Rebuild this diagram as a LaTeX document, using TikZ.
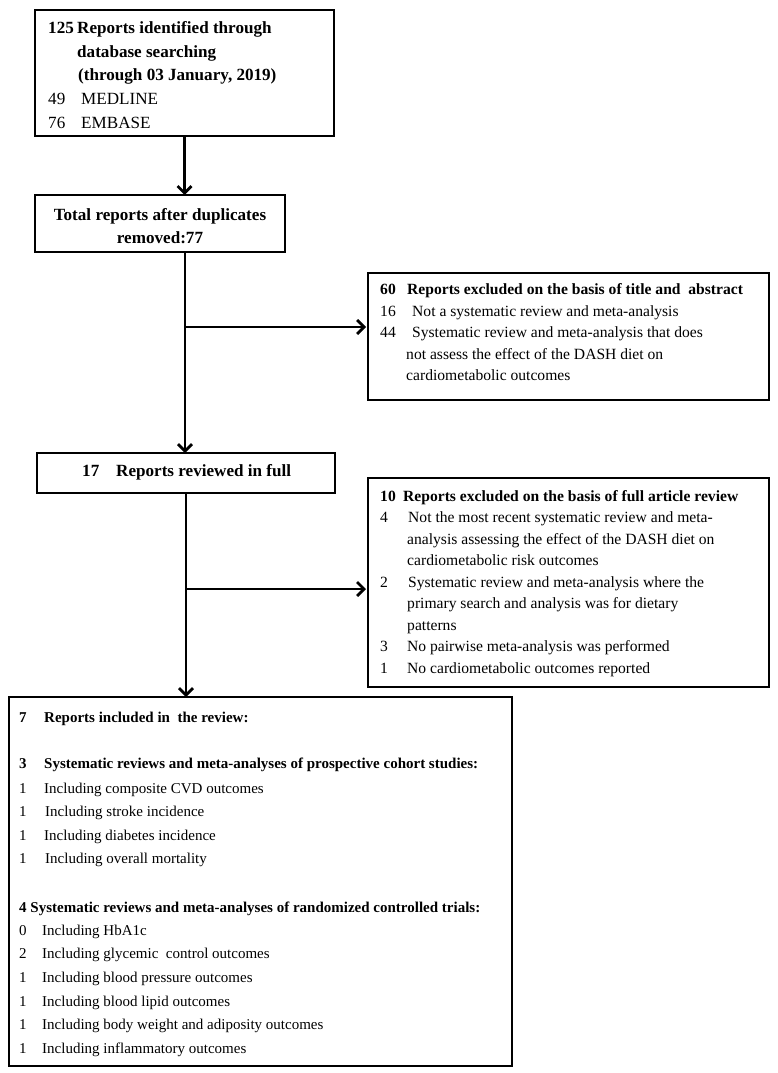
\documentclass[tikz,border=0pt]{standalone}
\usepackage{fontspec}
\setmainfont{Liberation Serif}
\usetikzlibrary{arrows.meta}
\begin{document}
\begin{tikzpicture}[x=1pt,y=-1pt,
  box/.style={draw, line width=1.5pt, inner sep=0pt, outer sep=0pt},
  conn/.style={line width=2.8pt, -{Straight Barb[length=7pt,width=14pt]}},
  tL/.style={anchor=base west, inner sep=0pt, font=\fontsize{17.1}{20}\selectfont},
  tLb/.style={tL, font=\fontsize{17.1}{20}\selectfont\bfseries},
  tLc/.style={anchor=base, inner sep=0pt, font=\fontsize{17.1}{20}\selectfont\bfseries},
  tM/.style={anchor=base west, inner sep=0pt, font=\fontsize{15.6}{18}\selectfont},
  tMb/.style={tM, font=\fontsize{15.6}{18}\selectfont\bfseries},
  tS/.style={anchor=base west, inner sep=0pt, font=\fontsize{15}{18}\selectfont},
  tSb/.style={tS, font=\fontsize{15}{18}\selectfont\bfseries}]
\useasboundingbox (0,0) rectangle (778,1073);

% boxes
\node[box, minimum width=299pt, minimum height=126pt] (b1) at (184.5,73) {};
\node[box, minimum width=250pt, minimum height=57pt] (b2) at (160,223.5) {};
\node[box, minimum width=401pt, minimum height=127pt] (b3) at (568.5,336.5) {};
\node[box, minimum width=298pt, minimum height=40pt] (b4) at (186,473) {};
\node[box, minimum width=401pt, minimum height=209pt] (b5) at (568.5,582.5) {};
\node[box, minimum width=503pt, minimum height=369pt] (b6) at (260.5,881.5) {};

% box 1 text
\node[tLb] (t1a) at (48,34) {125};
\node[tLb] (t1b) at (77,34) {Reports identified through};
\node[tLb] (t1c) at (77,57.5) {database searching};
\node[tLb] (t1d) at (78,81) {(through 03 January, 2019)};
\node[tL] (t1e) at (48,104.5) {49};
\node[tL] (t1f) at (81,104.5) {MEDLINE};
\node[tL] (t1g) at (48,128) {76};
\node[tL] (t1h) at (81,128) {EMBASE};

% box 2 text
\node[tLc] (t2a) at (160,220) {Total reports after duplicates};
\node[tLc] (t2b) at (160,243) {removed:77};

% box 3 text
\node[tMb] (t3a) at (380,294) {60};
\node[tMb] (t3b) at (407,294) {Reports excluded on the basis of title and\ \ abstract};
\node[tM] (t3c) at (380,316) {16};
\node[tM] (t3d) at (412,316) {Not a systematic review and meta-analysis};
\node[tM] (t3e) at (380,337.5) {44};
\node[tM] (t3f) at (412,337.5) {Systematic review and meta-analysis that does};
\node[tM] (t3g) at (406,359) {not assess the effect of the DASH diet on};
\node[tM] (t3h) at (406,380.5) {cardiometabolic outcomes};

% box 4 text
\node[tLb] (t4a) at (82,476.5) {17};
\node[tLb] (t4b) at (116,476.5) {Reports reviewed in full};

% box 5 text
\node[tMb] (t5a) at (380,501) {10};
\node[tMb] (t5b) at (403,501) {Reports excluded on the basis of full article review};
\node[tM] (t5c) at (380,522.5) {4};
\node[tM] (t5d) at (408,522.5) {Not the most recent systematic review and meta-};
\node[tM] (t5e) at (407,544) {analysis assessing the effect of the DASH diet on};
\node[tM] (t5f) at (407,565.5) {cardiometabolic risk outcomes};
\node[tM] (t5g) at (380,587) {2};
\node[tM] (t5h) at (408,587) {Systematic review and meta-analysis where the};
\node[tM] (t5i) at (407,608.5) {primary search and analysis was for dietary};
\node[tM] (t5j) at (407,630) {patterns};
\node[tM] (t5k) at (380,651.5) {3};
\node[tM] (t5l) at (407,651.5) {No pairwise meta-analysis was performed};
\node[tM] (t5m) at (380,673) {1};
\node[tM] (t5n) at (407,673) {No cardiometabolic outcomes reported};

% box 6 text
\node[tSb] (t6a) at (19,722) {7};
\node[tSb] (t6b) at (44,722) {Reports included in\ \ the review:};
\node[tSb] (t6c) at (19,768) {3};
\node[tSb] (t6d) at (44,768) {Systematic reviews and meta-analyses of prospective cohort studies:};
\node[tS] (t6e) at (19,793) {1};
\node[tS] (t6f) at (44,793) {Including composite CVD outcomes};
\node[tS] (t6g) at (19,816.5) {1};
\node[tS] (t6h) at (45,816.5) {Including stroke incidence};
\node[tS] (t6i) at (19,840) {1};
\node[tS] (t6j) at (44,840) {Including diabetes incidence};
\node[tS] (t6k) at (19,863.5) {1};
\node[tS] (t6l) at (45,863.5) {Including overall mortality};
\node[tSb] (t6m) at (19,912) {4 Systematic reviews and meta-analyses of randomized controlled trials:};
\node[tS] (t6n) at (19,935) {0};
\node[tS] (t6o) at (42,935) {Including HbA1c};
\node[tS] (t6p) at (19,958.5) {2};
\node[tS] (t6q) at (42,958.5) {Including glycemic\ \ control outcomes};
\node[tS] (t6r) at (19,982) {1};
\node[tS] (t6s) at (42,982) {Including blood pressure outcomes};
\node[tS] (t6t) at (19,1006) {1};
\node[tS] (t6u) at (42,1006) {Including blood lipid outcomes};
\node[tS] (t6v) at (19,1029.5) {1};
\node[tS] (t6w) at (42,1029.5) {Including body weight and adiposity outcomes};
\node[tS] (t6x) at (19,1053) {1};
\node[tS] (t6y) at (42,1053) {Including inflammatory outcomes};

% connectors
\coordinate (j1) at (185,327);
\coordinate (j2) at (186,589);
\draw[conn] (b1.south) -- (b1.south |- b2.north);
\draw[conn] (j1 |- b2.south) -- (j1 |- b4.north);
\draw[conn] (j1) -- ([xshift=-2pt]b3.west |- j1);
\draw[conn] (j2 |- b4.south) -- (j2 |- b6.north);
\draw[conn] (j2) -- ([xshift=-2pt]b5.west |- j2);
\end{tikzpicture}
\end{document}
